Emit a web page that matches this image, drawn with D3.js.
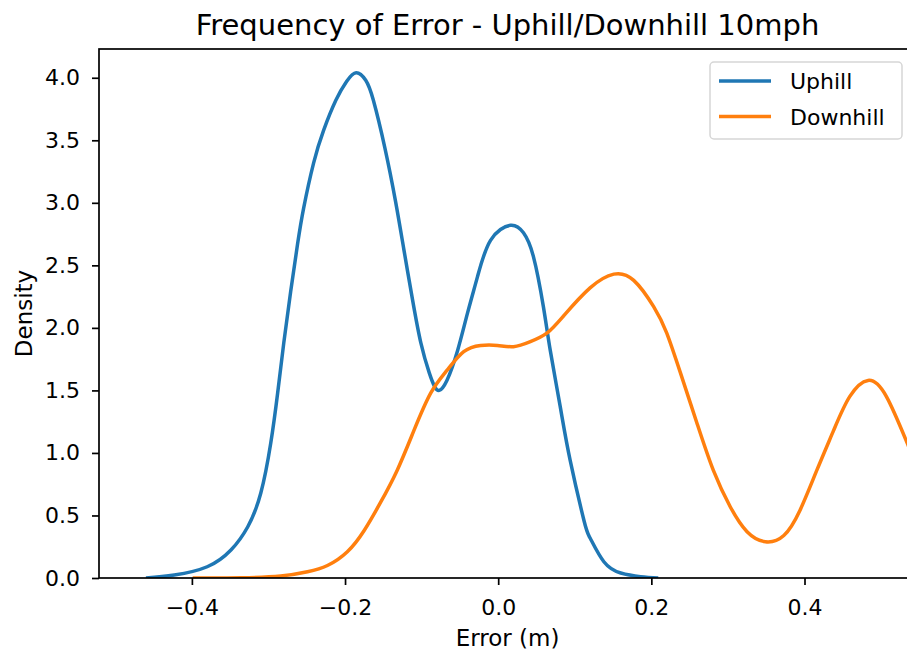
<!DOCTYPE html>
<html lang="en">
  <head>
    <meta charset="UTF-8" />
    <title>Frequency of Error</title>
    <style type="text/css">
      body {
        margin: 0;
        background: #fff;
      }
      svg text {
        font-family: "DejaVu Sans", sans-serif;
        fill: #000;
      }
    </style>
  </head>
  <body>
    <div id="chart"></div>
    <script src="https://d3js.org/d3.v7.min.js"></script>
    <script>
      // data (error in m, density)
      var uphillX = [
        -0.46, -0.423, -0.38, -0.349, -0.327, -0.31, -0.297, -0.288, -0.28,
        -0.271, -0.262, -0.254, -0.241, -0.228, -0.212, -0.198, -0.1855,
        -0.173, -0.163, -0.148, -0.134, -0.123, -0.112, -0.101, -0.09, -0.083,
        -0.077, -0.067, -0.053, -0.04, -0.027, -0.01, 0.016, 0.033, 0.046,
        0.059, 0.068, 0.081, 0.094, 0.112, 0.12, 0.138, 0.16, 0.186, 0.209,
      ];
      var uphillY = [
        0, 0.024, 0.09, 0.224, 0.41, 0.68, 1.08, 1.48, 1.88, 2.29, 2.67, 2.96,
        3.32, 3.58, 3.82, 3.97, 4.04, 3.98, 3.82, 3.44, 3.01, 2.62, 2.23, 1.88,
        1.64, 1.53, 1.5, 1.58, 1.82, 2.12, 2.41, 2.7, 2.82, 2.76, 2.57, 2.17,
        1.82, 1.37, 0.94, 0.46, 0.32, 0.13, 0.04, 0.01, 0,
      ];
      var downhillX = [
        -0.399, -0.336, -0.284, -0.249, -0.223, -0.197, -0.175, -0.154, -0.132,
        -0.11, -0.088, -0.067, -0.045, -0.023, -0.001, 0.02, 0.042, 0.064,
        0.086, 0.12, 0.151, 0.177, 0.203, 0.22, 0.238, 0.26, 0.281, 0.303,
        0.325, 0.349, 0.373, 0.394, 0.416, 0.438, 0.459, 0.483, 0.507, 0.534,
        0.55,
      ];
      var downhillY = [
        0, 0.002, 0.016, 0.05, 0.1, 0.21, 0.38, 0.6, 0.86, 1.18, 1.48, 1.66,
        1.81, 1.86, 1.86, 1.85, 1.89, 1.96, 2.1, 2.32, 2.43, 2.38, 2.17, 1.96,
        1.64, 1.23, 0.86, 0.57, 0.37, 0.29, 0.34, 0.54, 0.86, 1.18, 1.45, 1.58,
        1.45, 1.08, 0.85,
      ];
      var xTicks = [-0.4, -0.2, 0.0, 0.2, 0.4];
      var yTicks = [0, 0.5, 1, 1.5, 2, 2.5, 3, 3.5, 4];

      var series = [
        { name: "Uphill", color: "#1f77b4", xs: uphillX, ys: uphillY },
        { name: "Downhill", color: "#ff7f0e", xs: downhillX, ys: downhillY },
      ];

      var W = 907,
        H = 655;
      var margin = { top: 49, right: -9, bottom: 77, left: 99 },
        width = W - margin.left - margin.right,
        height = H - margin.top - margin.bottom;

      var svg = d3
        .select("#chart")
        .append("svg")
        .attr("width", W)
        .attr("height", H)
        .style("display", "block");

      var g = svg
        .append("g")
        .attr("transform", "translate(" + margin.left + "," + margin.top + ")");

      var x = d3.scaleLinear().domain([-0.5213, 0.5456]).range([0, width]);
      var y = d3.scaleLinear().domain([0, 4.23]).range([height, 0]);

      g.append("clipPath")
        .attr("id", "clip")
        .append("rect")
        .attr("width", width)
        .attr("height", height);

      var line = d3
        .line()
        .x(function (d) {
          return x(d[0]);
        })
        .y(function (d) {
          return y(d[1]);
        })
        .curve(d3.curveNatural);

      series.forEach(function (s) {
        var pts = s.xs.map(function (v, i) {
          return [v, s.ys[i]];
        });
        g.append("path")
          .datum(pts)
          .attr("clip-path", "url(#clip)")
          .attr("fill", "none")
          .attr("stroke", s.color)
          .attr("stroke-width", 3.5)
          .attr("stroke-linejoin", "round")
          .attr("d", line);
      });

      // axes
      var fmt = function (d) {
        return d3.format(".1f")(d).replace("-", "\u2212");
      };
      var xAxis = g
        .append("g")
        .attr("transform", "translate(0," + height + ")")
        .call(d3.axisBottom(x).tickValues(xTicks).tickFormat(fmt).tickSize(7).tickPadding(14));
      var yAxis = g
        .append("g")
        .call(d3.axisLeft(y).tickValues(yTicks).tickFormat(fmt).tickSize(7).tickPadding(12));

      [xAxis, yAxis].forEach(function (a) {
        a.select(".domain").remove();
        a.selectAll("line").attr("stroke", "#000").attr("stroke-width", 1.7);
        a.selectAll("text")
          .attr("font-size", "22px")
          .attr("font-family", "DejaVu Sans, sans-serif")
          .attr("fill", "#000");
      });

      // spines
      g.append("rect")
        .attr("width", width)
        .attr("height", height)
        .attr("fill", "none")
        .attr("stroke", "#000")
        .attr("stroke-width", 1.7);

      // labels
      svg
        .append("text")
        .attr("x", margin.left + width / 2)
        .attr("y", 35)
        .attr("text-anchor", "middle")
        .attr("font-size", "29px")
        .text("Frequency of Error - Uphill/Downhill 10mph");

      svg
        .append("text")
        .attr("x", margin.left + width / 2)
        .attr("y", 646)
        .attr("text-anchor", "middle")
        .attr("font-size", "23px")
        .text("Error (m)");

      svg
        .append("text")
        .attr("transform", "translate(32," + (margin.top + height / 2) + ") rotate(-90)")
        .attr("text-anchor", "middle")
        .attr("font-size", "23px")
        .text("Density");

      // legend
      var legend = svg.append("g").attr("transform", "translate(710,62)");
      legend
        .append("rect")
        .attr("width", 192)
        .attr("height", 77)
        .attr("rx", 4)
        .attr("fill", "#fff")
        .attr("fill-opacity", 0.8)
        .attr("stroke", "#d6d6d6")
        .attr("stroke-width", 1.5);
      series.forEach(function (s, i) {
        var ly = 19 + i * 35.5;
        legend
          .append("line")
          .attr("x1", 9)
          .attr("x2", 61)
          .attr("y1", ly)
          .attr("y2", ly)
          .attr("stroke", s.color)
          .attr("stroke-width", 3.5);
        legend
          .append("text")
          .attr("x", 80)
          .attr("y", ly + 8)
          .attr("font-size", "22px")
          .text(s.name);
      });
    </script>
  </body>
</html>
